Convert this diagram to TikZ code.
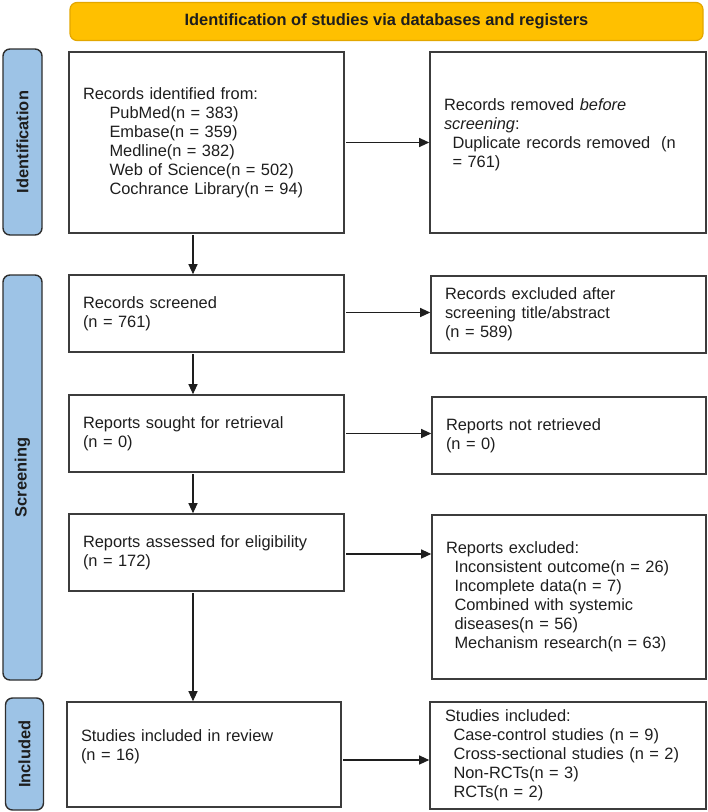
\documentclass[tikz,border=0pt]{standalone}
\usepackage{fontspec}
\setmainfont{Liberation Sans}
\usetikzlibrary{arrows.meta,calc}
\definecolor{hdrfill}{HTML}{FFC000}
\definecolor{hdrline}{HTML}{E3A700}
\definecolor{barfill}{HTML}{9DC3E6}
\definecolor{barline}{HTML}{2E2E2E}
\definecolor{boxline}{HTML}{3C3C3C}
\definecolor{txt}{HTML}{1E1E1E}
\newcommand{\ind}{\hspace*{26.5pt}}
\newcommand{\sind}{\hspace*{8.5pt}}
\begin{document}
\begin{tikzpicture}[x=1pt,y=-1pt,
  every node/.style={font=\fontsize{16.4}{19}\selectfont, text=txt},
  hdr/.style={draw=hdrline, fill=hdrfill, line width=1.2pt, rounded corners=7pt,
    minimum width=633pt, minimum height=38pt, inner sep=0pt, font=\fontsize{16.4}{19}\selectfont\bfseries},
  bar/.style={draw=barline, fill=barfill, line width=1.4pt, rounded corners=7pt,
    rotate=90, inner sep=0pt, font=\fontsize{16.4}{19}\selectfont\bfseries},
  box/.style={draw=boxline, line width=1.6pt, inner xsep=14pt, inner ysep=2pt,
    align=left, minimum height=#1},
  arr/.style={draw=txt, line width=1.1pt, -{Triangle[length=10pt,width=9pt]}, shorten <=1.5pt}
]
\useasboundingbox (0,0) rectangle (708,812);

\node[hdr] (hdr) at (386.5,21.5) {Identification of studies via databases and registers};

\node[bar, minimum width=186pt, minimum height=39pt] (bid) at (22.5,142) {Identification};
\node[bar, minimum width=405pt, minimum height=39pt] (bsc) at (22.5,477.5) {Screening};
\node[bar, minimum width=112pt, minimum height=38pt] (bin) at (24.5,754) {Included};

\node[box=181pt, minimum width=275pt, text width=247pt] (B1) at (206.5,142.5)
  {Records identified from:\\
   \ind PubMed(n = 383)\\
   \ind Embase(n = 359)\\
   \ind Medline(n = 382)\\
   \ind Web of Science(n = 502)\\
   \ind Cochrance Library(n = 94)};
\node[box=181pt, minimum width=276pt, text width=248pt] (R1) at (568,142.5)
  {Records removed \textit{before}\\
   \textit{screening}:\\
   \sind Duplicate records removed\ \ (n\\
   \sind = 761)\\ \mbox{}};

\node[box=77pt, minimum width=275pt, text width=247pt] (B2) at (206.5,313.5)
  {Records screened\\(n = 761)};
\node[box=77pt, minimum width=275pt, text width=247pt] (R2) at (568.5,314.5)
  {Records excluded after\\screening title/abstract\\(n = 589)};

\node[box=77pt, minimum width=275pt, text width=247pt] (B3) at (206.5,433.5)
  {Reports sought for retrieval\\(n = 0)};
\node[box=77pt, minimum width=274pt, text width=246pt] (R3) at (569,435.5)
  {Reports not retrieved\\(n = 0)};

\node[box=77pt, minimum width=275pt, text width=247pt] (B4) at (206.5,552.5)
  {Reports assessed for eligibility\\(n = 172)};
\node[box=164pt, minimum width=274pt, text width=246pt] (R4) at (569,597)
  {Reports excluded:\\
   \sind Inconsistent outcome(n = 26)\\
   \sind Incomplete data(n = 7)\\
   \sind Combined with systemic\\
   \sind diseases(n = 56)\\
   \sind Mechanism research(n = 63)};

\node[box=105pt, minimum width=274pt, text width=246pt] (B5) at (204,754.5)
  {Studies included in review\\(n = 16)\\ \mbox{}};
\node[box=107pt, minimum width=276pt, text width=246pt, inner xsep=15pt] (R5) at (568,755.5)
  {Studies included:\\
   \sind Case-control studies (n = 9)\\
   \sind Cross-sectional studies (n = 2)\\
   \sind Non-RCTs(n = 3)\\
   \sind RCTs(n = 2)};

\coordinate (vx) at (193,0);
\draw[arr] (B1.south -| vx) -- (B2.north -| vx);
\draw[arr] (B2.south -| vx) -- (B3.north -| vx);
\draw[arr] (B3.south -| vx) -- (B4.north -| vx);
\draw[arr] (B4.south -| vx) -- (B5.north -| vx);

\draw[arr] (B1.east) -- (R1.west);
\draw[arr] ([yshift=1pt]B2.east) -- ([yshift=1pt]B2.east -| R2.west);
\draw[arr] (B3.east) -- (B3.east -| R3.west);
\draw[arr] ([yshift=-1.5pt]B4.east) -- ([yshift=-1.5pt]B4.east -| R4.west);
\coordinate (a5) at ($(B5.east)+(0,5.5)$);
\draw[arr] (a5) -- (a5 -| R5.west);
\end{tikzpicture}
\end{document}
